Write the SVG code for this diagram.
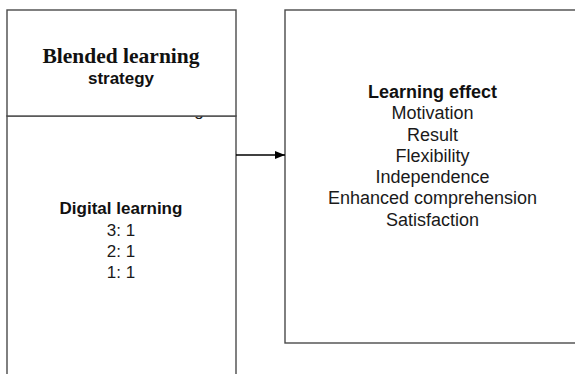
<svg xmlns="http://www.w3.org/2000/svg" width="575" height="374" viewBox="0 0 575 374">
  <style>
    .box { fill: #ffffff; stroke: #4a4a4a; stroke-width: 1.4; }
    .serif-b { font-family: "Liberation Serif", "Times New Roman", serif; font-weight: bold; font-size: 21.5px; fill: #111111; text-anchor: middle; }
    .sans { font-family: "Liberation Sans", Arial, sans-serif; font-size: 17px; fill: #1a1a1a; text-anchor: middle; }
    .sans-b { font-family: "Liberation Sans", Arial, sans-serif; font-weight: bold; font-size: 17px; fill: #111111; text-anchor: middle; }
    #learning-effect text { font-size: 18px; }
    .link { stroke: #000000; stroke-width: 1.4; fill: none; }
  </style>
  <defs>
    <marker id="arrow" markerWidth="10" markerHeight="8" refX="10" refY="4" orient="auto" markerUnits="userSpaceOnUse">
      <path d="M0,0 L10,4 L0,8 Z" fill="#000000"/>
    </marker>
  </defs>

  <rect width="575" height="374" fill="#ffffff"/>

  <!-- lower part of the strategy column: digital learning ratios -->
  <g id="digital-learning">
    <rect class="box" x="7" y="116" width="229" height="300"/>
    <text class="sans" x="199" y="116">g</text>
    <text class="sans-b" x="121" y="214">Digital learning</text>
    <text class="sans" x="121" y="235.5">3: 1</text>
    <text class="sans" x="121" y="256.5">2: 1</text>
    <text class="sans" x="121" y="277.5">1: 1</text>
  </g>

  <!-- header of the strategy column -->
  <g id="blended-learning">
    <rect class="box" x="7" y="10" width="229" height="106"/>
    <text class="serif-b" x="121" y="63">Blended learning</text>
    <text class="sans-b" x="121" y="83.5">strategy</text>
  </g>

  <!-- outcome box -->
  <g id="learning-effect">
    <rect class="box" x="285" y="10" width="320" height="333"/>
    <text class="sans-b" x="432.5" y="97.5">Learning effect</text>
    <text class="sans" x="432.5" y="119">Motivation</text>
    <text class="sans" x="432.5" y="140.5">Result</text>
    <text class="sans" x="432.5" y="161.5">Flexibility</text>
    <text class="sans" x="432.5" y="183">Independence</text>
    <text class="sans" x="432.5" y="204">Enhanced comprehension</text>
    <text class="sans" x="432.5" y="225.5">Satisfaction</text>
  </g>

  <g id="connectors">
    <line class="link" x1="236" y1="155" x2="285" y2="155" marker-end="url(#arrow)"/>
  </g>
</svg>
